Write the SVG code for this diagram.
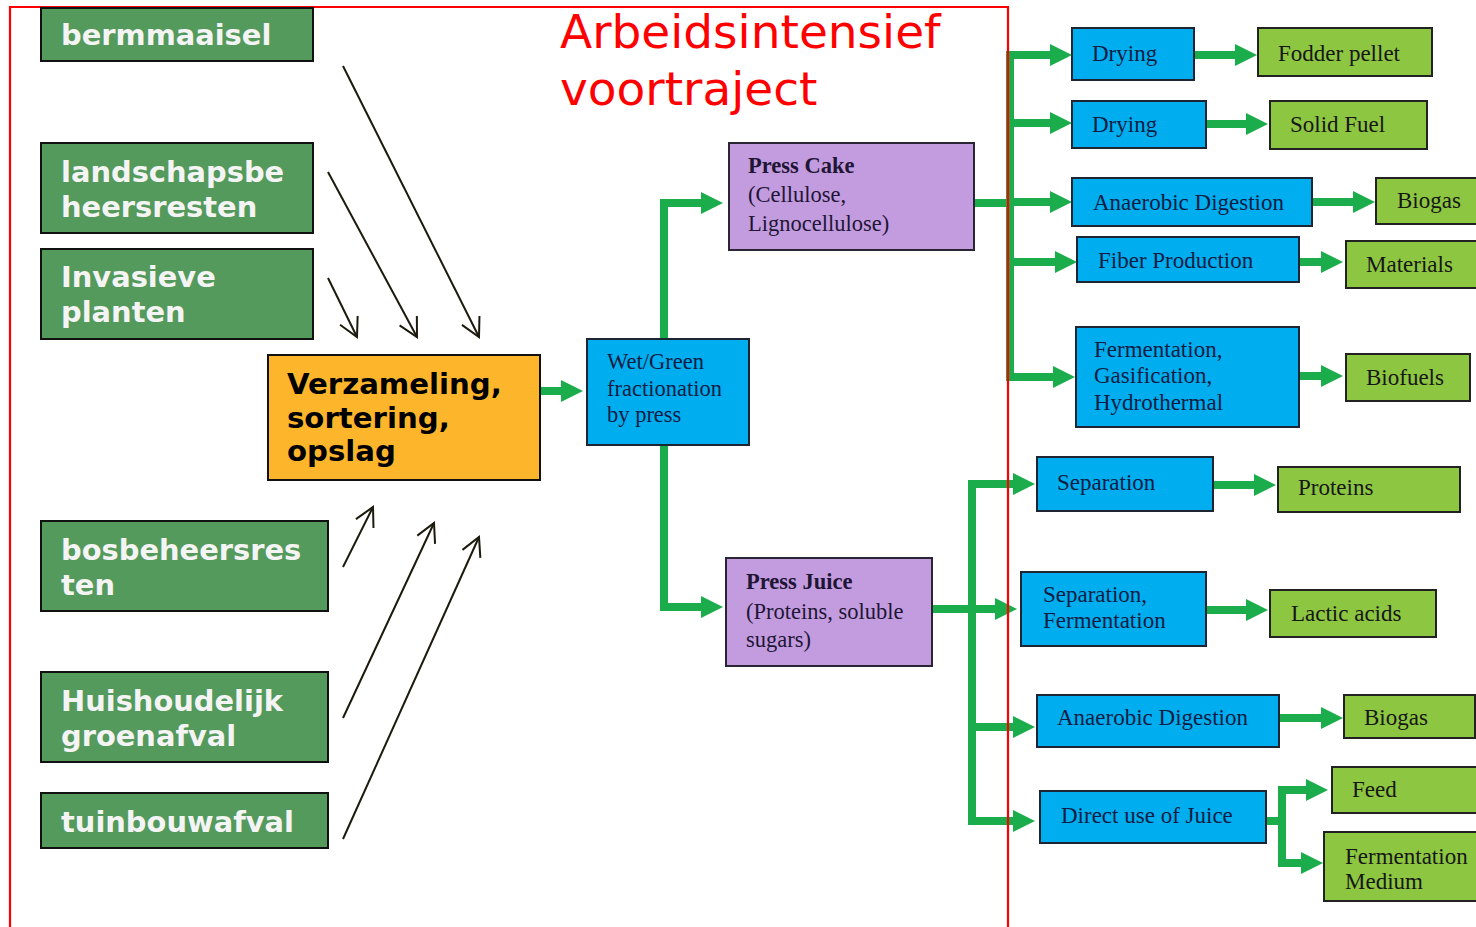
<svg xmlns="http://www.w3.org/2000/svg" width="1476" height="927" viewBox="0 0 1476 927">
<style>
.src rect{fill:#549A5C;stroke:#111;stroke-width:2}
.src text{font-family:"DejaVu Sans",Verdana,sans-serif;font-weight:bold;font-size:28.9px;fill:#F4F4F4}
.ora rect{fill:#FDB62C;stroke:#111;stroke-width:2}
.ora text{font-family:"DejaVu Sans",Verdana,sans-serif;font-weight:bold;font-size:29.2px;fill:#000}
.blu rect{fill:#00AEEF;stroke:#1d2533;stroke-width:2}
.blu text{font-family:"Liberation Serif","Times New Roman",serif;font-size:23px;fill:#0f1c44}
.pur rect{fill:#C29CDF;stroke:#2a2535;stroke-width:2}
.pur text{font-family:"Liberation Serif","Times New Roman",serif;font-size:22.5px;fill:#1f1535}
.lg rect{fill:#8DC641;stroke:#222;stroke-width:2}
.lg text{font-family:"Liberation Serif","Times New Roman",serif;font-size:23px;fill:#161616}
.mid text{font-size:22.5px}
.g{fill:none;stroke:#1BAD4C;stroke-width:8;stroke-linejoin:miter}
.ga{marker-end:url(#gh)}
.bk{fill:none;stroke:#1c1a0c;stroke-width:2;marker-end:url(#bh)}
.title{font-family:"DejaVu Sans",Verdana,sans-serif;font-size:47px;fill:#FF0000}
</style>
<defs>
<marker id="gh" markerUnits="userSpaceOnUse" markerWidth="30" markerHeight="30" refX="2" refY="11" orient="auto" overflow="visible">
<path d="M0 0 L22 11 L0 22 Z" fill="#1BAD4C"/>
</marker>
<marker id="bh" markerUnits="userSpaceOnUse" markerWidth="30" markerHeight="30" refX="0" refY="0" orient="auto" overflow="visible">
<path d="M-18.5 -9.8 L0 0 L-18.5 9.8" fill="none" stroke="#1c1a0c" stroke-width="2"/>
</marker>
</defs>
<rect width="1476" height="927" fill="#fff"/>

<g id="connectors">
<g id="green">
<path class="g ga" d="M540 391 H563"/>
<path class="g ga" d="M664 339 V203 H703"/>
<path class="g ga" d="M664 445 V607 H703"/>
<path class="g" d="M975 203 H1010"/>
<line class="g" x1="1010" y1="55" x2="1010" y2="377" stroke-linecap="square"/>
<path class="g ga" d="M1006 55 H1052"/>
<path class="g ga" d="M1006 123 H1052"/>
<path class="g ga" d="M1006 202 H1052"/>
<path class="g ga" d="M1006 262 H1057"/>
<path class="g ga" d="M1006 377 H1055"/>
<path class="g ga" d="M932 609 H997"/>
<line class="g" x1="972" y1="484" x2="972" y2="821" stroke-linecap="square"/>
<path class="g ga" d="M968 484 H1015"/>
<path class="g ga" d="M968 727 H1015"/>
<path class="g ga" d="M968 821 H1015"/>
<path class="g" d="M1266 821 H1282"/>
<line class="g" x1="1282" y1="790" x2="1282" y2="863" stroke-linecap="square"/>
<path class="g ga" d="M1278 790 H1308"/>
<path class="g ga" d="M1278 863 H1303"/>
<path class="g ga" d="M1194 55 H1237"/>
<path class="g ga" d="M1206 124 H1248"/>
<path class="g ga" d="M1312 202 H1355"/>
<path class="g ga" d="M1299 262 H1323"/>
<path class="g ga" d="M1299 376 H1323"/>
<path class="g ga" d="M1213 485 H1256"/>
<path class="g ga" d="M1206 610 H1248"/>
<path class="g ga" d="M1279 718 H1323"/>
</g>
<g id="black">
<line class="bk" x1="343" y1="66" x2="479" y2="337"/>
<line class="bk" x1="328" y1="172" x2="417" y2="337"/>
<line class="bk" x1="328" y1="278" x2="357" y2="337"/>
<line class="bk" x1="343" y1="567" x2="373" y2="507"/>
<line class="bk" x1="343" y1="718" x2="434" y2="523"/>
<line class="bk" x1="343" y1="839" x2="479" y2="537"/>
</g>
</g>

<g id="frame">
<path d="M10 927 V7 H1008 V927" fill="none" stroke="#FF0000" stroke-width="2.2"/>
<text class="title" x="560" y="48">Arbeidsintensief</text>
<text class="title" x="560" y="105">voortraject</text>
</g>

<g id="n-bermmaaisel" class="src"><rect x="41" y="8" width="272" height="53"/><text x="61" y="45">bermmaaisel</text></g>
<g id="n-landschap" class="src"><rect x="41" y="143" width="272" height="90"/><text x="61" y="182">landschapsbe</text><text x="61" y="217">heersresten</text></g>
<g id="n-invasieve" class="src"><rect x="41" y="249" width="272" height="90"/><text x="61" y="287">Invasieve</text><text x="61" y="322">planten</text></g>
<g id="n-bosbeheer" class="src"><rect x="41" y="521" width="287" height="90"/><text x="61" y="560">bosbeheersres</text><text x="61" y="595">ten</text></g>
<g id="n-huis" class="src"><rect x="41" y="672" width="287" height="90"/><text x="61" y="711">Huishoudelijk</text><text x="61" y="746">groenafval</text></g>
<g id="n-tuinbouw" class="src"><rect x="41" y="793" width="287" height="55"/><text x="61" y="832">tuinbouwafval</text></g>

<g id="n-verzameling" class="ora"><rect x="268" y="355" width="272" height="125"/><text x="287" y="394">Verzameling,</text><text x="287" y="428">sortering,</text><text x="287" y="461">opslag</text></g>

<g id="n-wetgreen" class="blu mid"><rect x="587" y="339" width="162" height="106"/><text x="607" y="369">Wet/Green</text><text x="607" y="396">fractionation</text><text x="607" y="422">by press</text></g>

<g id="n-presscake" class="pur"><rect x="729" y="143" width="245" height="107"/><text x="748" y="173" font-weight="bold">Press Cake</text><text x="748" y="202">(Cellulose,</text><text x="748" y="231">Lignocellulose)</text></g>
<g id="n-pressjuice" class="pur"><rect x="726" y="558" width="206" height="108"/><text x="746" y="589" font-weight="bold">Press Juice</text><text x="746" y="619">(Proteins, soluble</text><text x="746" y="647">sugars)</text></g>

<g id="n-drying1" class="blu"><rect x="1072" y="28" width="122" height="52"/><text x="1092" y="61">Drying</text></g>
<g id="n-fodder" class="lg"><rect x="1258" y="28" width="174" height="48"/><text x="1278" y="61">Fodder pellet</text></g>
<g id="n-drying2" class="blu"><rect x="1072" y="101" width="134" height="47"/><text x="1092" y="132">Drying</text></g>
<g id="n-solidfuel" class="lg"><rect x="1270" y="101" width="157" height="48"/><text x="1290" y="132">Solid Fuel</text></g>
<g id="n-ad1" class="blu"><rect x="1072" y="178" width="240" height="48"/><text x="1093" y="210">Anaerobic Digestion</text></g>
<g id="n-biogas1" class="lg"><rect x="1376" y="178" width="110" height="46"/><text x="1397" y="208">Biogas</text></g>
<g id="n-fiber" class="blu"><rect x="1077" y="237" width="222" height="45"/><text x="1098" y="268">Fiber Production</text></g>
<g id="n-materials" class="lg"><rect x="1346" y="241" width="140" height="47"/><text x="1366" y="272">Materials</text></g>
<g id="n-fermgas" class="blu"><rect x="1076" y="327" width="223" height="100"/><text x="1094" y="357">Fermentation,</text><text x="1094" y="383">Gasification,</text><text x="1094" y="410">Hydrothermal</text></g>
<g id="n-biofuels" class="lg"><rect x="1346" y="354" width="124" height="47"/><text x="1366" y="385">Biofuels</text></g>

<g id="n-separation" class="blu"><rect x="1037" y="457" width="176" height="54"/><text x="1057" y="490">Separation</text></g>
<g id="n-proteins" class="lg"><rect x="1278" y="467" width="182" height="45"/><text x="1298" y="495">Proteins</text></g>
<g id="n-sepferm" class="blu"><rect x="1021" y="572" width="185" height="74"/><text x="1043" y="602">Separation,</text><text x="1043" y="628">Fermentation</text></g>
<g id="n-lactic" class="lg"><rect x="1270" y="590" width="166" height="47"/><text x="1291" y="621">Lactic acids</text></g>
<g id="n-ad2" class="blu"><rect x="1037" y="695" width="242" height="52"/><text x="1057" y="725">Anaerobic Digestion</text></g>
<g id="n-biogas2" class="lg"><rect x="1344" y="695" width="131" height="43"/><text x="1364" y="725">Biogas</text></g>
<g id="n-direct" class="blu"><rect x="1040" y="791" width="226" height="52"/><text x="1061" y="823">Direct use of Juice</text></g>
<g id="n-feed" class="lg"><rect x="1332" y="767" width="154" height="46"/><text x="1352" y="797">Feed</text></g>
<g id="n-fermmedium" class="lg"><rect x="1324" y="832" width="162" height="69"/><text x="1345" y="864">Fermentation</text><text x="1345" y="889">Medium</text></g>
</svg>
